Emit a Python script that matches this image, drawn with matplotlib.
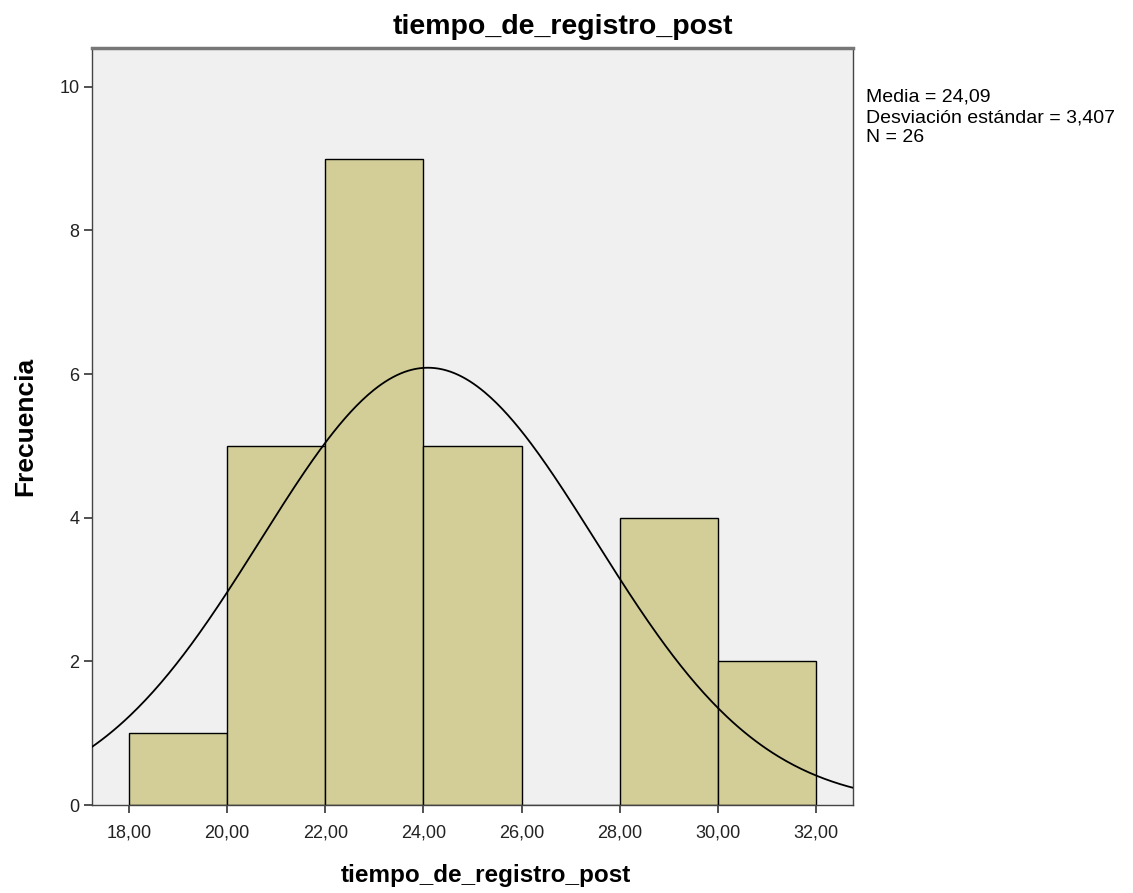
import numpy as np
import matplotlib
matplotlib.use("Agg")
import matplotlib.pyplot as plt
from matplotlib import font_manager

bin_edges = [18, 20, 22, 24, 26, 28, 30, 32]
counts = [1, 5, 9, 5, 0, 4, 2]
mean = 24.09
std = 3.407
n = 26
xticks = [18, 20, 22, 24, 26, 28, 30, 32]
yticks = [0, 2, 4, 6, 8, 10]

names = {f.name for f in font_manager.fontManager.ttflist}
narrow = 'Liberation Sans Narrow' if 'Liberation Sans Narrow' in names else 'Liberation Sans'

fig = plt.figure(figsize=(11.33, 8.93), dpi=100)
ax = fig.add_axes([0.0812, 0.0985, 0.6717, 0.8477])
ax.set_facecolor('#f0f0f0')

widths = np.diff(bin_edges)
ax.bar(bin_edges[:-1], counts, width=widths, align='edge',
       color='#d3ce98', edgecolor='black', linewidth=1.0, zorder=2)

xs = np.linspace(17.2, 32.8, 400)
bw = bin_edges[1] - bin_edges[0]
ys = n * bw / (std * np.sqrt(2 * np.pi)) * np.exp(-0.5 * ((xs - mean) / std) ** 2)
ax.plot(xs, ys, color='black', linewidth=1.3, zorder=3)

ax.set_xlim(17.246, 32.754)
ax.set_ylim(0, 10.54)
ax.set_xticks(xticks)
ax.set_xticklabels([f"{v:.2f}".replace('.', ',') for v in xticks], fontfamily=narrow, fontsize=13, color='#222222')
ax.set_yticks(yticks)
ax.set_yticklabels([str(v) for v in yticks], fontfamily=narrow, fontsize=13, color='#222222')
ax.tick_params(axis='x', direction='out', length=6, width=1.2, color='#333333', pad=8)
ax.tick_params(axis='y', direction='out', length=6, width=1.2, color='#333333', pad=3)

for s in ['left', 'bottom', 'right']:
    ax.spines[s].set_color('#444444')
    ax.spines[s].set_linewidth(1.0)
ax.spines['top'].set_color('#777777')
ax.spines['top'].set_linewidth(2.5)

fig.text(0.497, 1 - 27/893, 'tiempo_de_registro_post', fontfamily=narrow,
         fontweight='bold', fontsize=20.5, ha='center', va='center')
ax.set_xlabel('tiempo_de_registro_post', fontfamily='Liberation Sans', fontweight='bold', fontsize=17.5)
ax.xaxis.set_label_coords((486 - 92) / 761, -(875 - 805) / 757)
ax.xaxis.label.set_va('center')
ax.set_ylabel('Frecuencia', fontfamily='Liberation Sans', fontweight='bold', fontsize=19)
ax.yaxis.set_label_coords(-(92 - 25) / 761, 0.5)
ax.yaxis.label.set_va('center')

fig.text(866/1133, 1 - 89/893,
         f"Media = {mean:.2f}".replace('.', ',') + "\n" +
         f"Desviación estándar = {std:.3f}".replace('.', ',') + "\n" +
         f"N = {n}",
         fontfamily='Liberation Sans', fontsize=14, va='top', ha='left', linespacing=1.25)

fig.savefig('out.png', dpi=100)
